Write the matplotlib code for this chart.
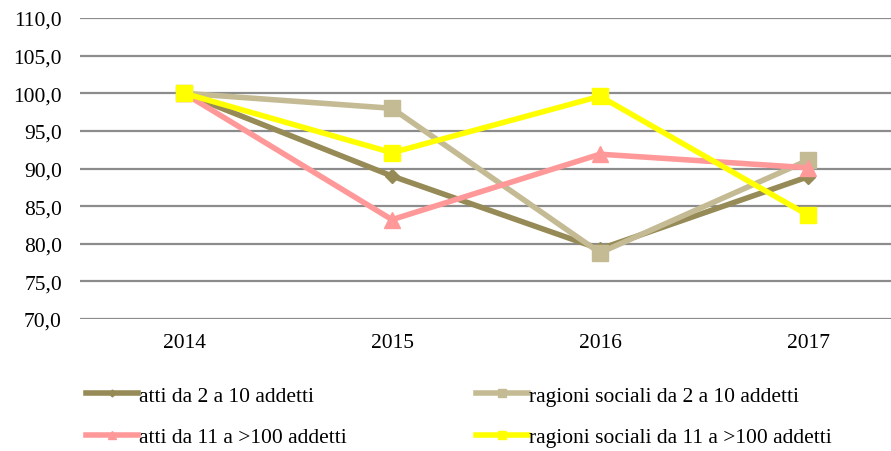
import matplotlib.pyplot as plt
import numpy as np

years = ["2014", "2015", "2016", "2017"]
atti_2_10 = [100.0, 89.0, 79.3, 88.9]
ragioni_2_10 = [100.0, 98.0, 78.8, 91.1]
atti_11_100 = [100.0, 83.2, 91.9, 90.1]
ragioni_11_100 = [100.0, 92.1, 99.6, 83.8]

plt.rcParams['font.family'] = ['Liberation Serif', 'DejaVu Serif']

fig = plt.figure(figsize=(8.91, 4.52), dpi=100)
ax = fig.add_axes([80 / 891, 1 - 320 / 452, 832 / 891, 301 / 452])

x = np.arange(len(years))
l1, = ax.plot(x, atti_2_10, color='#968B56', lw=4, marker='D', ms=7, label='atti da 2 a 10 addetti', zorder=3)
l2, = ax.plot(x, ragioni_2_10, color='#C4BB94', lw=4, marker='s', ms=11, label='ragioni sociali da 2 a 10 addetti', zorder=3)
l3, = ax.plot(x, atti_11_100, color='#FF9999', lw=4, marker='^', ms=11, label='atti da 11 a >100 addetti', zorder=3)
l4, = ax.plot(x, ragioni_11_100, color='#FFFF00', lw=4, marker='s', ms=11, label='ragioni sociali da 11 a >100 addetti', zorder=4)

ax.set_xlim(-0.5, 3.5)
ax.set_ylim(70, 110)
ax.set_yticks(np.arange(70, 111, 5))
ax.set_yticklabels([f"{v:.1f}".replace('.', ',') for v in np.arange(70, 111, 5)])
ax.set_xticks(x)
ax.set_xticklabels(years)
ax.tick_params(length=0, labelsize=15.5, pad=10)
ax.tick_params(axis='y', pad=13)
ax.grid(axis='y', color='#8C8C8C', lw=1.6)
ax.set_axisbelow(True)
for s in ax.spines.values():
    s.set_visible(False)

fig.legend(handles=[l1, l3, l2, l4], loc='lower left', bbox_to_anchor=(0.075, -0.035), ncol=2, frameon=False,
           fontsize=15.5, handlelength=2.4, handletextpad=0.05, columnspacing=6.0,
           labelspacing=1.0, markerscale=0.5)

fig.savefig('out.png', dpi=100)
